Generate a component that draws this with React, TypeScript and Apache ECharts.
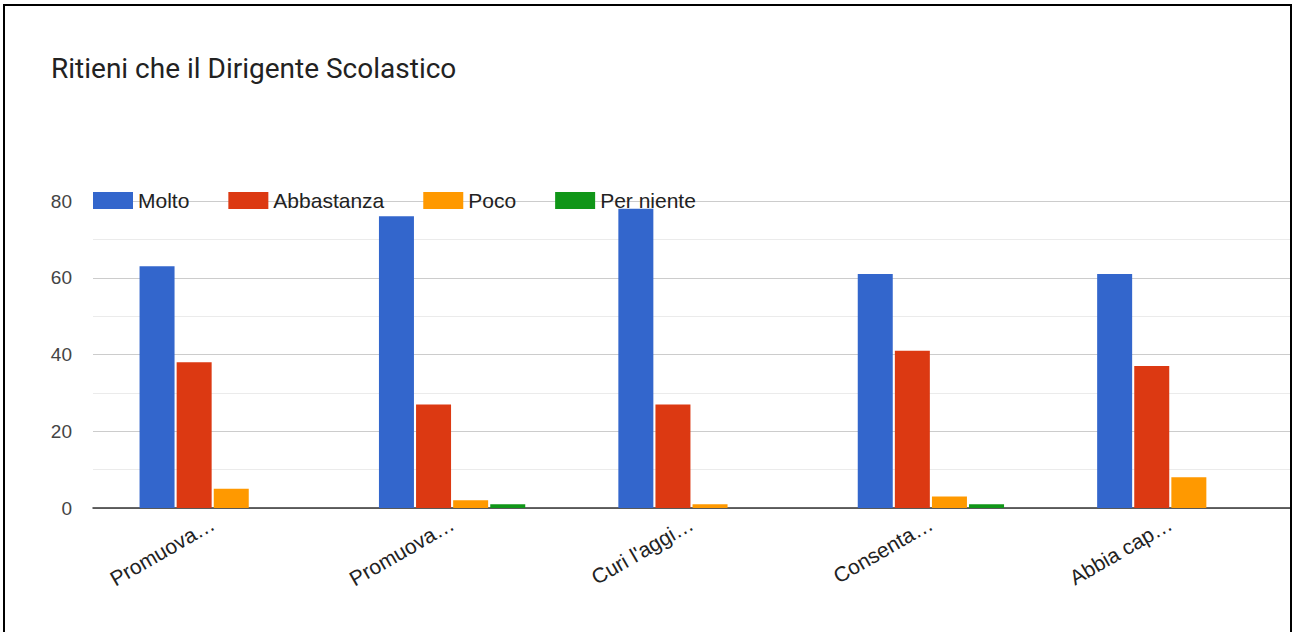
import React, { useEffect, useRef } from "react";
import * as echarts from "echarts";

const categories = ["Promuova…", "Promuova…", "Curi l'aggi…", "Consenta…", "Abbia cap…"];
const seriesNames = ["Molto", "Abbastanza", "Poco", "Per niente"];
const molto = [63, 76, 78, 61, 61];
const abbastanza = [38, 27, 27, 41, 37];
const poco = [5, 2, 1, 3, 8];
const perNiente = [0, 1, 0, 1, 0];
const colors = ["#3366cc", "#dc3912", "#ff9900", "#109618"];
const yTicks = { min: 0, max: 80, interval: 20 };

export default function App() {
  const ref = useRef<HTMLDivElement>(null);
  useEffect(() => {
    if (!ref.current) return;
    const chart = echarts.init(ref.current, undefined, { renderer: "svg" });
    const values = [molto, abbastanza, poco, perNiente];
    chart.setOption({
      animation: false,
      backgroundColor: "#ffffff",
      title: {
        text: "Ritieni che il Dirigente Scolastico",
        left: 46,
        top: 49,
        textStyle: { fontFamily: "Roboto", fontSize: 28, fontWeight: "normal", color: "#222222" },
      },
      legend: {
        left: 88,
        top: 185,
        icon: "rect",
        itemWidth: 40,
        itemHeight: 17,
        itemGap: 39,
        data: seriesNames,
        textStyle: { fontFamily: "Liberation Sans", fontSize: 21, color: "#222222", padding: [0, 0, 0, 0] },
      },
      grid: { left: 93, right: 4, top: 201, bottom: 124, containLabel: false },
      xAxis: {
        type: "category",
        data: categories,
        axisLine: { show: true, lineStyle: { color: "#333333", width: 1.5 } },
        axisTick: { show: false },
        axisLabel: {
          rotate: 30,
          margin: 14,
          interval: 0,
          fontFamily: "Liberation Sans",
          fontSize: 21,
          color: "#222222",
        },
      },
      yAxis: {
        type: "value",
        min: yTicks.min,
        max: yTicks.max,
        interval: yTicks.interval,
        axisLine: { show: false },
        axisTick: { show: false },
        axisLabel: { margin: 21, fontFamily: "Liberation Sans", fontSize: 19, color: "#444444" },
        splitLine: { lineStyle: { color: "#cccccc", width: 1 } },
        minorTick: { show: false, splitNumber: 2 },
        minorSplitLine: { show: true, lineStyle: { color: "#ebebeb", width: 1 } },
      },
      series: seriesNames.map((name, i) => ({
        name,
        type: "bar",
        data: values[i],
        barWidth: 35,
        barGap: "6%",
        itemStyle: { color: colors[i] },
      })),
      graphic: [
        {
          type: "rect",
          shape: { x: 4, y: 5, width: 1287, height: 700 },
          style: { fill: "none", stroke: "#000000", lineWidth: 2 },
          silent: true,
          z: 100,
        },
      ],
    });
    return () => chart.dispose();
  }, []);
  return (
    <div
      ref={ref}
      style={{ position: "fixed", left: 0, top: 0, width: 1294, height: 632, background: "#fff" }}
    />
  );
}
